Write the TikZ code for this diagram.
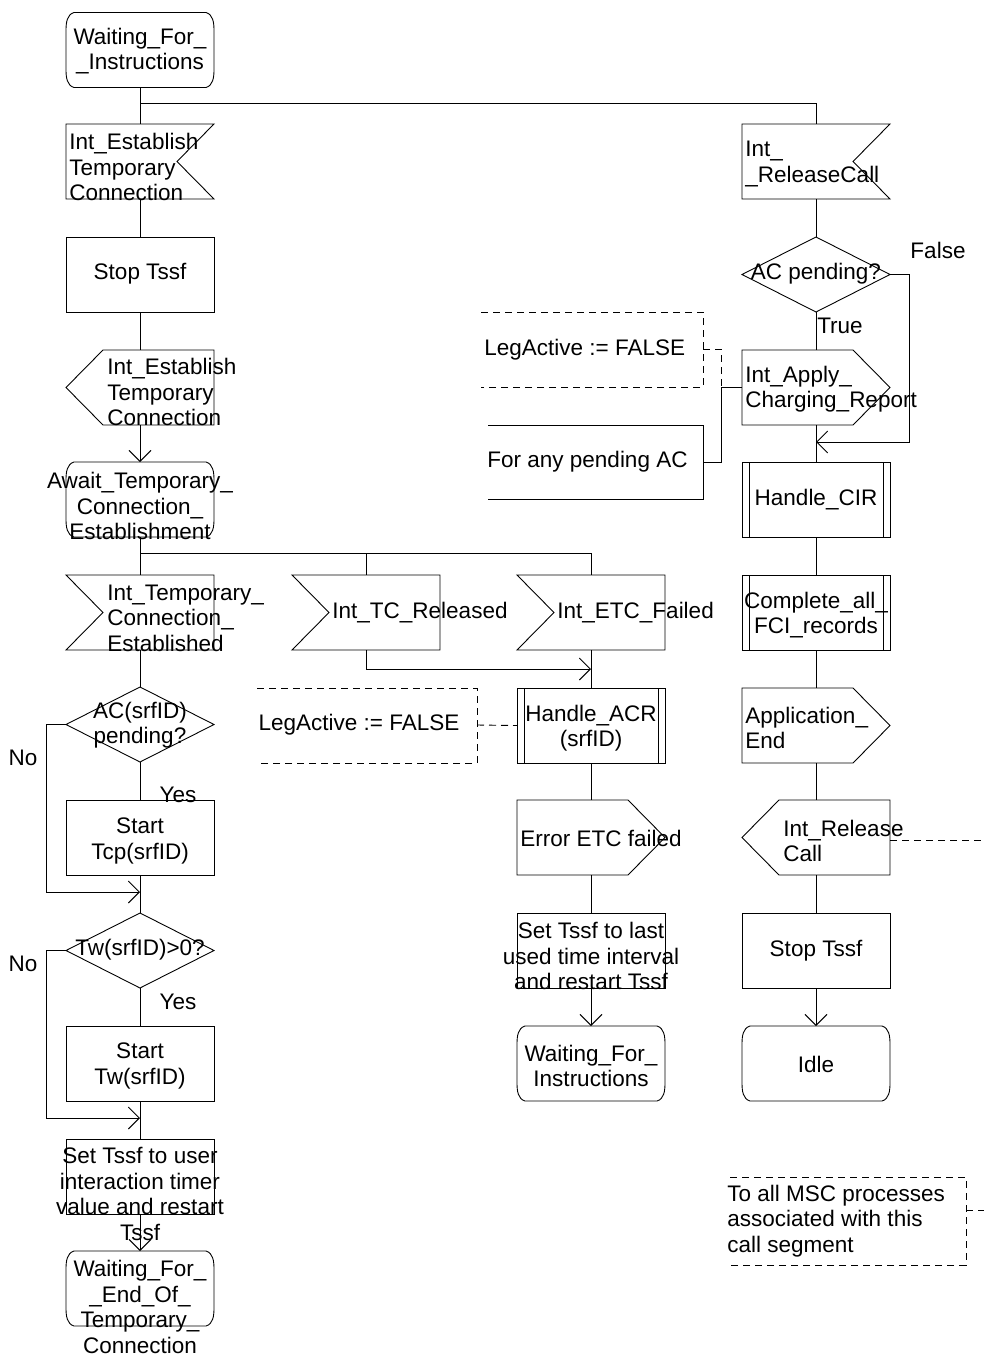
\documentclass[tikz,border=0pt]{standalone}
\usepackage{fontspec}
\setmainfont{Liberation Sans}
\usetikzlibrary{arrows.meta}
\tikzset{
  base/.style={minimum width=148pt, minimum height=75pt, inner sep=0pt, outer sep=0pt},
  taskbox/.style={base, draw},
  statebox/.style={base, append after command={\pgfextra{
      \draw ([xshift=8pt]\tikzlastnode.north west) -- ([xshift=-8pt]\tikzlastnode.north east)
        .. controls ([xshift=-1pt,yshift=-2pt]\tikzlastnode.north east) and ([yshift=-10pt]\tikzlastnode.north east) .. ([yshift=-18pt]\tikzlastnode.north east)
        -- ([yshift=18pt]\tikzlastnode.south east)
        .. controls ([yshift=10pt]\tikzlastnode.south east) and ([xshift=-1pt,yshift=2pt]\tikzlastnode.south east) .. ([xshift=-8pt]\tikzlastnode.south east)
        -- ([xshift=8pt]\tikzlastnode.south west)
        .. controls ([xshift=1pt,yshift=2pt]\tikzlastnode.south west) and ([yshift=10pt]\tikzlastnode.south west) .. ([yshift=18pt]\tikzlastnode.south west)
        -- ([yshift=-18pt]\tikzlastnode.north west)
        .. controls ([yshift=-10pt]\tikzlastnode.north west) and ([xshift=1pt,yshift=-2pt]\tikzlastnode.north west) .. ([xshift=8pt]\tikzlastnode.north west) -- cycle;}}},
  procbox/.style={base, draw, append after command={\pgfextra{
      \draw ([xshift=7pt]\tikzlastnode.north west) -- ([xshift=7pt]\tikzlastnode.south west);
      \draw ([xshift=-7pt]\tikzlastnode.north east) -- ([xshift=-7pt]\tikzlastnode.south east);}}},
  decbox/.style={base, append after command={\pgfextra{
      \draw (\tikzlastnode.north) -- (\tikzlastnode.east) -- (\tikzlastnode.south) -- (\tikzlastnode.west) -- cycle;}}},
  inR/.style={base, append after command={\pgfextra{
      \draw (\tikzlastnode.north west) -- (\tikzlastnode.north east) -- ([xshift=-37pt]\tikzlastnode.east)
        -- (\tikzlastnode.south east) -- (\tikzlastnode.south west) -- cycle;}}},
  inL/.style={base, append after command={\pgfextra{
      \draw (\tikzlastnode.north west) -- (\tikzlastnode.north east) -- (\tikzlastnode.south east)
        -- (\tikzlastnode.south west) -- ([xshift=37pt]\tikzlastnode.west) -- cycle;}}},
  outL/.style={base, append after command={\pgfextra{
      \draw ([xshift=37pt]\tikzlastnode.north west) -- (\tikzlastnode.north east) -- (\tikzlastnode.south east)
        -- ([xshift=37pt]\tikzlastnode.south west) -- (\tikzlastnode.west) -- cycle;}}},
  outR/.style={base, append after command={\pgfextra{
      \draw (\tikzlastnode.north west) -- ([xshift=-37pt]\tikzlastnode.north east) -- (\tikzlastnode.east)
        -- ([xshift=-37pt]\tikzlastnode.south east) -- (\tikzlastnode.south west) -- cycle;}}},
  txtc/.style={inner sep=0pt, align=center, font=\fontsize{22.5}{25.5}\selectfont},
  txtl/.style={inner sep=0pt, align=left, anchor=west, font=\fontsize{22.5}{25.5}\selectfont},
  comm/.style={dash pattern=on 7pt off 5pt},
}
\begin{document}
\begin{tikzpicture}[x=1pt, y=-1pt, line width=0.9pt, >={Straight Barb[length=11pt,width=22pt]}]
\useasboundingbox (0,0) rectangle (984,1358);

% ---------- left column ----------
\node[statebox] (w1) at (140,50) {};
\node[txtc] (w1t) at (140,51) {Waiting\_For\_\\\_Instructions};
\node[inR] (i1) at (140,161.5) {};
\node[txtl] (i1t) at (69,167) {Int\_Establish\\Temporary\\Connection};
\node[taskbox] (t1) at (140,274.5) {};
\node[txtc] (t1t) at (140,274) {Stop Tssf};
\node[outL] (o1) at (140,387.5) {};
\node[txtl] (o1t) at (107,392) {Int\_Establish\\Temporary\\Connection};
\node[statebox] (s2) at (140,499.5) {};
\node[txtc] (s2t) at (140,506) {Await\_Temporary\_\\Connection\_\\Establishment};
\node[inL] (i2) at (140,612.5) {};
\node[txtl] (i2t) at (107,618) {Int\_Temporary\_\\Connection\_\\Established};
\node[decbox] (d1) at (140,724.5) {};
\node[txtc] (d1t) at (140,725) {AC(srfID)\\pending?};
\node[txtc] (no1) at (23,758) {No};
\node[txtc] (yes1) at (178,795) {Yes};
\node[taskbox] (t2) at (140,837.5) {};
\node[txtc] (t2t) at (140,841) {Start\\Tcp(srfID)};
\node[decbox] (d2) at (140,950.5) {};
\node[txtc] (d2t) at (140,950) {Tw(srfID)>0?};
\node[txtc] (no2) at (23,964) {No};
\node[txtc] (yes2) at (178,1002) {Yes};
\node[taskbox] (t3) at (140,1063.5) {};
\node[txtc] (t3t) at (140,1066) {Start\\Tw(srfID)};
\node[taskbox] (t4) at (140,1176.5) {};
\node[txtc] (t4t) at (140,1194) {Set Tssf to user\\interaction timer\\value and restart\\Tssf};
\node[statebox] (s3) at (140,1288.5) {};
\node[txtc] (s3t) at (140,1307) {Waiting\_For\_\\\_End\_Of\_\\Temporary\_\\Connection};

% ---------- middle columns ----------
\node[inL] (i3) at (366,612.5) {};
\node[txtl] (i3t) at (332,613) {Int\_TC\_Released};
\node[inL] (i4) at (591,612.5) {};
\node[txtl] (i4t) at (557,613) {Int\_ETC\_Failed};
\node[procbox] (p1) at (591,725.5) {};
\node[txtc] (p1t) at (591,728) {Handle\_ACR\\(srfID)};
\node[outR] (o2) at (591,837.5) {};
\node[txtl] (o2t) at (520,838) {Error ETC failed};
\node[taskbox] (t5) at (591,950.5) {};
\node[txtc] (t5t) at (591,956) {Set Tssf to last\\used time interval\\and restart Tssf};
\node[statebox] (s4) at (591,1063.5) {};
\node[txtc] (s4t) at (591,1066) {Waiting\_For\_\\Instructions};

% comment LegActive (middle)
\node[txtc] (c1t) at (359,725) {LegActive := FALSE};
\draw[comm] (257,688) -- (477,688) -- (477,763) -- (257,763);
\coordinate (c1r) at (477,725);

% ---------- right column ----------
\node[inR] (i5) at (816,161.5) {};
\node[txtl] (i5t) at (745,164) {Int\_\\\_ReleaseCall};
\node[decbox] (d3) at (816,274.5) {};
\node[txtc] (d3t) at (816,274) {AC pending?};
\node[txtc] (false) at (938,250) {False};
\node[txtc] (true) at (840,326) {True};
\node[outR] (o3) at (816,387.5) {};
\node[txtl] (o3t) at (745,389) {Int\_Apply\_\\Charging\_Report};
\node[procbox] (p2) at (816,499.5) {};
\node[txtc] (p2t) at (816,500) {Handle\_CIR};
\node[procbox] (p3) at (816,612.5) {};
\node[txtc] (p3t) at (816,615) {Complete\_all\_\\FCI\_records};
\node[outR] (o4) at (816,725.5) {};
\node[txtl] (o4t) at (745,728) {Application\_\\End};
\node[outL] (o5) at (816,837.5) {};
\node[txtl] (o5t) at (783,841) {Int\_Release\\Call};
\node[taskbox] (t6) at (816,950.5) {};
\node[txtc] (t6t) at (816,951) {Stop Tssf};
\node[statebox] (s5) at (816,1063.5) {};
\node[txtc] (s5t) at (816,1064) {Idle};

% comments (right)
\node[txtl] (c2t) at (484,350) {LegActive := FALSE};
\draw[comm] (481,312) -- (703,312) -- (703,387) -- (481,387);
\node[txtl] (c3t) at (487,462) {For any pending AC};
\draw (488,425) -- (703,425) -- (703,499) -- (488,499);
\node[txtl] (c4t) at (727,1221) {To all MSC processes\\associated with this\\call segment};
\draw[comm] (730,1177) -- (966,1177) -- (966,1265) -- (730,1265);

% ---------- connectors ----------
\coordinate (b1) at (140,103);
\draw (w1.south) -- (i1.north);
\draw (b1) -| (i5.north);
\draw (i1.south) -- (t1.north);
\draw (t1.south) -- (o1.north);
\draw[->] (o1.south) -- (s2.north);
\draw (s2.south) -- (i2.north);
\coordinate (b2) at (140,553);
\draw (b2) -| (i4.north);
\draw (i3.north |- b2) -- (i3.north);
\coordinate (m1) at (591,669);
\draw[->] (i3.south) |- (m1);
\draw (i4.south) -- (p1.north);
\draw (p1.south) -- (o2.north);
\draw (o2.south) -- (t5.north);
\draw[->] (t5.south) -- (s4.north);
\draw[comm] (c1r) -- (p1.west);

\draw (i2.south) -- (d1.north);
\draw (d1.south) -- (t2.north);
\draw (t2.south) -- (d2.north);
\coordinate (j1) at (140,892);
\draw[->] (d1.west) -- ++(-20,0) |- (j1);
\draw (d2.south) -- (t3.north);
\draw (t3.south) -- (t4.north);
\coordinate (j2) at (140,1118);
\draw[->] (d2.west) -- ++(-20,0) |- (j2);
\draw[->] (t4.south) -- (s3.north);

\draw (i5.south) -- (d3.north);
\draw (d3.south) -- (o3.north);
\coordinate (j3) at (816,442);
\draw[->] (d3.east) -- ++(19,0) |- (j3);
\draw (o3.south) -- (p2.north);
\draw (p2.south) -- (p3.north);
\draw (p3.south) -- (o4.north);
\draw (o4.south) -- (o5.north);
\draw (o5.south) -- (t6.north);
\draw[->] (t6.south) -- (s5.north);

\coordinate (k1) at (721,387.5);
\draw[comm] (703,349) -| (k1);
\draw (o3.west) -- (k1) |- (703,462);
\coordinate (e1) at (984,840);
\draw[comm] (o5.east |- e1) -- (e1);
\coordinate (e2) at (984,1210);
\draw[comm] (966,1210) -- (e2);
\end{tikzpicture}
\end{document}
